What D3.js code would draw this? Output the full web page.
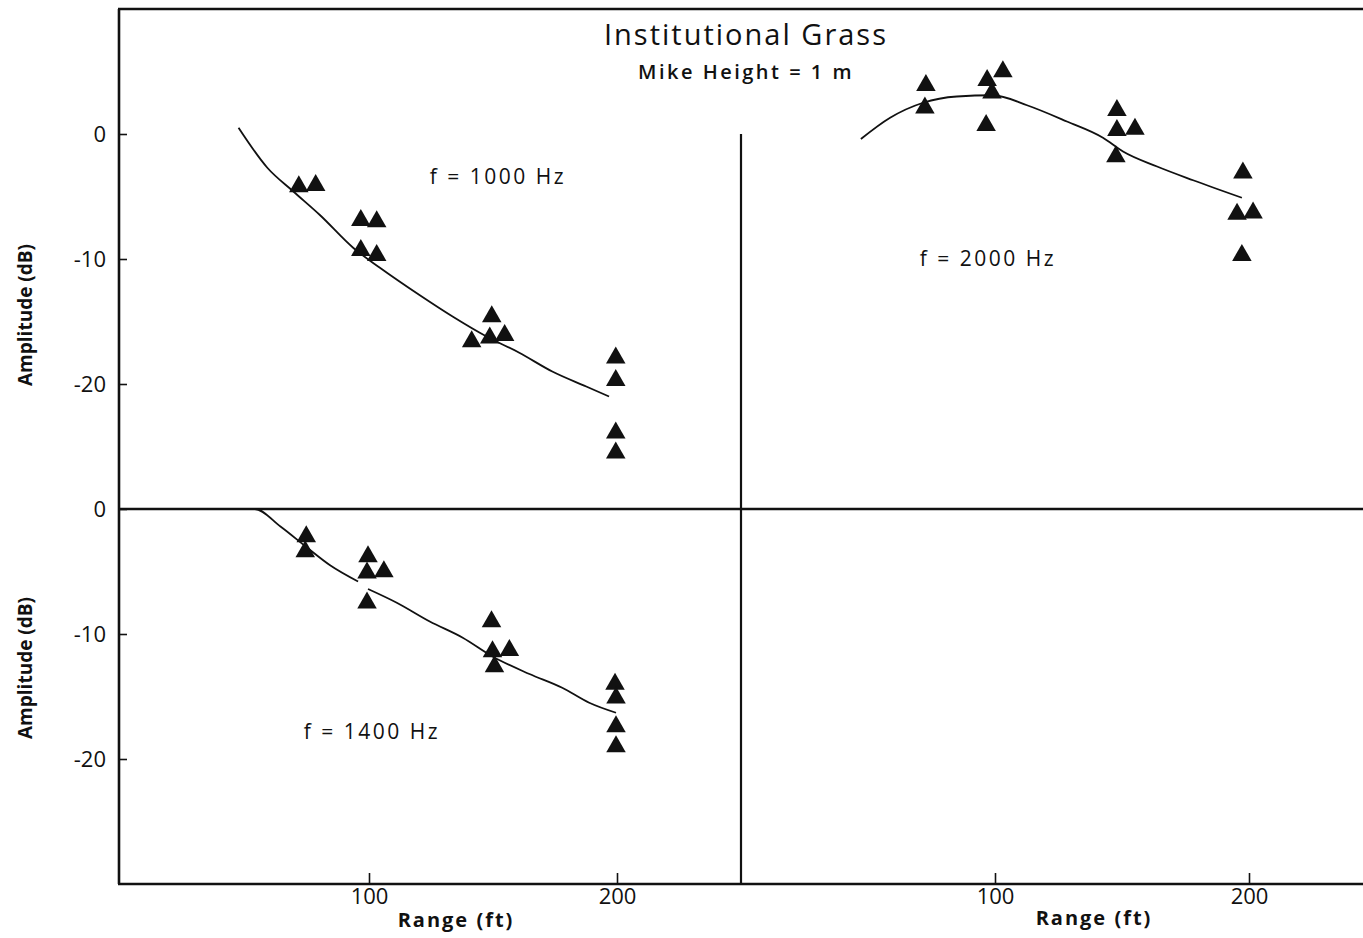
<!DOCTYPE html>
<html>
<head>
<meta charset="utf-8">
<script src="https://cdn.jsdelivr.net/npm/d3@7"></script>
<style>
  body { margin: 0; background: #fff; }
  svg { display: block; }
</style>
</head>
<body>
<svg id="chart" width="1363" height="938"></svg>
<script>
// values (range in ft, amplitude in dB)
const xTicks = [100, 200];
const yTicksTop = [0, -10, -20];
const yTicksBottom = [0, -10, -20];

const pts1000 = [
  [71.7, -4.2], [78.5, -4.1], [96.7, -6.9], [103.1, -7.0],
  [96.7, -9.3], [103.1, -9.7], [141.4, -16.6], [149.5, -14.6],
  [148.7, -16.3], [154.7, -16.1], [199.5, -17.9], [199.5, -19.7],
  [199.5, -23.9], [199.5, -25.5]
];
const curve1000 = [
  [47.4, 0.5], [59.0, -2.7], [69.5, -4.6], [80.3, -6.5], [93.6, -9.1],
  [104.4, -10.7], [120.5, -12.9], [133.7, -14.6], [147.4, -16.2],
  [160.6, -17.5], [173.9, -19.0], [187.6, -20.2], [196.8, -21.0]
];

const pts1400 = [
  [74.7, -2.2], [74.3, -3.4], [99.6, -3.8], [99.2, -5.1],
  [106.0, -5.0], [99.2, -7.5], [149.4, -9.0], [149.8, -11.4],
  [156.6, -11.3], [150.6, -12.6], [199.2, -14.0], [199.6, -15.1],
  [199.6, -17.4], [199.6, -19.0]
];
const curve1400a = [
  [35.0, 0], [54.0, 0], [64.3, -1.4], [75.1, -3.1], [84.3, -4.5], [95.6, -5.8]
];
const curve1400b = [
  [99.6, -6.4], [111.2, -7.5], [124.5, -9.0], [137.8, -10.3],
  [149.8, -11.8], [164.7, -13.2], [177.9, -14.3], [188.8, -15.5], [199.6, -16.3]
];

const pts2000 = [
  [72.8, 3.9], [72.4, 2.1], [96.9, 4.3], [103.1, 5.0], [98.8, 3.3],
  [96.5, 0.7], [148.0, 1.9], [148.0, 0.3], [155.1, 0.4], [147.6, -1.8],
  [197.6, -3.1], [195.3, -6.4], [201.6, -6.3], [197.2, -9.7]
];
const curve2000 = [
  [47.2, -0.4], [58.7, 1.3], [71.7, 2.5], [85.0, 3.0], [99.2, 3.1],
  [112.6, 2.3], [128.3, 1.0], [142.5, -0.3], [150.4, -1.4], [163.8, -2.6],
  [178.0, -3.7], [197.2, -5.1]
];

const ink = "#111";
const font = "'Open Sans', sans-serif";

const svg = d3.select("#chart");

const xLeft = d3.scaleLinear().domain([0, 250]).range([121, 741]);
const xRight = d3.scaleLinear().domain([0, 250]).range([741, 1376]);
const yTop = d3.scaleLinear().domain([-30, 10]).range([509, 9]);
const yBottom = d3.scaleLinear().domain([-30, 0]).range([884, 509]);

const fmt = (d) => (d < 0 ? "-" + Math.abs(d) : String(d));

// frame lines
const frame = svg.append("g").attr("stroke", ink).attr("stroke-width", 2.6);
frame.append("line")
  .attr("x1", 118).attr("x2", 1363)
  .attr("y1", yTop(10)).attr("y2", yTop(10));
frame.append("line")
  .attr("x1", 118).attr("x2", 1363)
  .attr("y1", yTop(-30)).attr("y2", yTop(-30));
frame.append("line")
  .attr("x1", 118).attr("x2", 1363)
  .attr("y1", yBottom(-30)).attr("y2", yBottom(-30));
frame.append("line")
  .attr("x1", 119).attr("x2", 119)
  .attr("y1", yTop(10)).attr("y2", yBottom(-30));
frame.append("line")
  .attr("x1", xRight(0)).attr("x2", xRight(0))
  .attr("y1", yTop(0)).attr("y2", yBottom(-30))
  .attr("stroke-width", 2.2);

// axes
function styleAxis(g) {
  g.select(".domain").remove();
  g.selectAll(".tick line").attr("stroke", ink).attr("stroke-width", 1.6);
  g.selectAll(".tick text")
    .attr("fill", ink)
    .attr("font-family", font)
    .attr("font-size", 22);
}

svg.append("g")
  .attr("transform", "translate(119,0)")
  .call(d3.axisLeft(yTop).tickValues(yTicksTop).tickSize(-8).tickPadding(13).tickFormat(fmt))
  .call(styleAxis);

svg.append("g")
  .attr("transform", "translate(119,0)")
  .call(d3.axisLeft(yBottom).tickValues(yTicksBottom).tickSize(-8).tickPadding(13).tickFormat(fmt))
  .call(styleAxis);

svg.append("g")
  .attr("transform", `translate(0,${yBottom(-30)})`)
  .call(d3.axisBottom(xLeft).tickValues(xTicks).tickSize(-11).tickPadding(4))
  .call(styleAxis);

svg.append("g")
  .attr("transform", `translate(0,${yBottom(-30)})`)
  .call(d3.axisBottom(xRight).tickValues(xTicks).tickSize(-11).tickPadding(4))
  .call(styleAxis);

// fitted curves
function drawCurve(data, x, y) {
  svg.append("path")
    .datum(data)
    .attr("fill", "none")
    .attr("stroke", ink)
    .attr("stroke-width", 1.8)
    .attr("d", d3.line()
      .x((d) => x(d[0]))
      .y((d) => y(d[1]))
      .curve(d3.curveMonotoneX));
}
drawCurve(curve1000, xLeft, yTop);
drawCurve(curve1400a, xLeft, yBottom);
drawCurve(curve1400b, xLeft, yBottom);
drawCurve(curve2000, xRight, yTop);

// measured points
const tri = d3.symbol().type(d3.symbolTriangle).size(165);
function drawPoints(data, x, y) {
  svg.append("g")
    .selectAll("path")
    .data(data)
    .join("path")
    .attr("transform", (d) => `translate(${x(d[0])},${y(d[1])})`)
    .attr("d", tri)
    .attr("fill", ink);
}
drawPoints(pts1000, xLeft, yTop);
drawPoints(pts1400, xLeft, yBottom);
drawPoints(pts2000, xRight, yTop);

// texts
const text = svg.append("g")
  .attr("font-family", font)
  .attr("fill", ink)
  .attr("text-anchor", "middle");

text.append("text")
  .attr("x", 746).attr("y", 45)
  .attr("font-size", 29)
  .attr("letter-spacing", 2)
  .text("Institutional  Grass");

text.append("text")
  .attr("x", 746).attr("y", 79)
  .attr("font-size", 20)
  .attr("font-weight", 600)
  .attr("letter-spacing", 2.5)
  .text("Mike Height =  1 m");

text.append("text")
  .attr("x", 498).attr("y", 184)
  .attr("font-size", 21)
  .attr("letter-spacing", 2.5)
  .text("f = 1000 Hz");

text.append("text")
  .attr("x", 988).attr("y", 266)
  .attr("font-size", 21)
  .attr("letter-spacing", 2.5)
  .text("f = 2000  Hz");

text.append("text")
  .attr("x", 372).attr("y", 739)
  .attr("font-size", 21)
  .attr("letter-spacing", 2.5)
  .text("f = 1400  Hz");

text.append("text")
  .attr("x", 456).attr("y", 927)
  .attr("font-size", 20)
  .attr("font-weight", 700)
  .attr("letter-spacing", 2)
  .text("Range  (ft)");

text.append("text")
  .attr("x", 1094).attr("y", 925)
  .attr("font-size", 20)
  .attr("font-weight", 700)
  .attr("letter-spacing", 2)
  .text("Range (ft)");

text.append("text")
  .attr("transform", "translate(32,315) rotate(-90)")
  .attr("font-size", 19)
  .attr("font-weight", 700)
  .text("Amplitude  (dB)");

text.append("text")
  .attr("transform", "translate(32,668) rotate(-90)")
  .attr("font-size", 19)
  .attr("font-weight", 700)
  .text("Amplitude  (dB)");
</script>
</body>
</html>
